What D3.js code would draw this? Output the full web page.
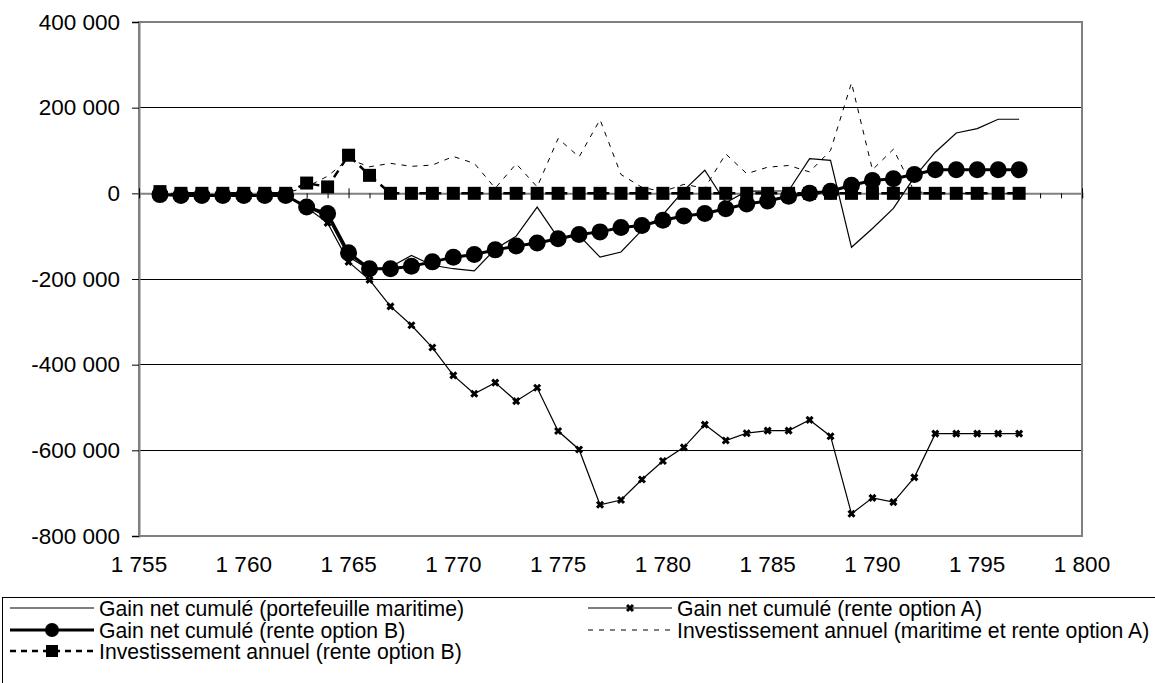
<!DOCTYPE html>
<html>
<head>
<meta charset="utf-8">
<script src="https://cdn.jsdelivr.net/npm/d3@7"></script>
<style>
  html, body { margin: 0; padding: 0; background: #fff; }
  svg { display: block; font-family: "Liberation Sans", Arial, sans-serif; }
</style>
</head>
<body>
<svg id="chart" width="1155" height="683"></svg>
<script>
// Years of the series
const years = [1756, 1757, 1758, 1759, 1760, 1761, 1762, 1763, 1764, 1765,
  1766, 1767, 1768, 1769, 1770, 1771, 1772, 1773, 1774, 1775,
  1776, 1777, 1778, 1779, 1780, 1781, 1782, 1783, 1784, 1785,
  1786, 1787, 1788, 1789, 1790, 1791, 1792, 1793, 1794, 1795,
  1796, 1797];

// Gain net cumulé (portefeuille maritime)
const gainMaritime = [-4000, -5000, -5000, -5000, -5000, -5000, -5000, -32000, -55000, -148000,
  -178000, -172000, -145000, -168000, -176000, -181000, -130000, -100000, -32000, -104000,
  -98000, -149000, -137000, -86000, -50000, 7000, 54000, -22000, 5000, 5000,
  6000, 81000, 77000, -126000, -82000, -35000, 38000, 96000, 141000, 151000,
  173000, 173000];

// Gain net cumulé (rente option A)
const gainOptionA = [-3000, -5000, -5000, -5000, -5000, -5000, -5000, -33000, -69000, -160000,
  -202000, -264000, -308000, -360000, -425000, -468000, -442000, -485000, -454000, -555000,
  -598000, -727000, -716000, -668000, -625000, -593000, -540000, -577000, -560000, -554000,
  -554000, -529000, -567000, -748000, -711000, -721000, -663000, -561000, -561000, -561000,
  -561000, -561000];

// Gain net cumulé (rente option B)
const gainOptionB = [-3000, -5000, -5000, -5000, -5000, -5000, -5000, -32000, -47000, -139000,
  -176000, -176000, -170000, -160000, -149000, -143000, -132000, -123000, -116000, -106000,
  -96000, -90000, -80000, -75000, -63000, -53000, -47000, -36000, -25000, -18000,
  -7000, 0, 5000, 19000, 30000, 34000, 44000, 55000, 55000, 55000,
  55000, 55000];

// Investissement annuel (maritime et rente option A)
const investOptionA = [0, 0, 0, 0, 0, 0, 0, 15000, 40000, 80000,
  62000, 70000, 63000, 66000, 86000, 70000, 12000, 69000, 15000, 128000,
  85000, 172000, 44000, 14000, 4000, 21000, 12000, 92000, 46000, 61000,
  65000, 50000, 100000, 258000, 55000, 103000, 4000, 0, 0, 0,
  0, 0];

// Investissement annuel (rente option B)
const investOptionB = [4000, 0, 0, 0, 0, 0, 0, 24000, 15000, 89000,
  42000, 0, 0, 0, 0, 0, 0, 0, 0, 0,
  0, 0, 0, 0, 0, 0, 0, 0, 0, 0,
  0, 0, 0, 0, 0, 0, 0, 0, 0, 0,
  0, 0];

// Axis ticks
const yTicks = [400000, 200000, 0, -200000, -400000, -600000, -800000];
const xTicks = [1755, 1760, 1765, 1770, 1775, 1780, 1785, 1790, 1795, 1800];

const legendLabels = [
  "Gain net cumulé (portefeuille maritime)",
  "Gain net cumulé (rente option A)",
  "Gain net cumulé (rente option B)",
  "Investissement annuel (maritime et rente option A)",
  "Investissement annuel (rente option B)"
];

const fr = d3.formatLocale({ decimal: ",", thousands: "\u00a0", grouping: [3], currency: ["", " €"], minus: "-" });
const fmt = fr.format(",d");

const svg = d3.select("#chart");
const plot = { left: 139, right: 1082, top: 22, bottom: 536 };

const x = d3.scaleLinear().domain([1755, 1800]).range([plot.left, plot.right]);
const y = d3.scaleLinear().domain([-800000, 400000]).range([plot.bottom, plot.top]);

svg.append("rect").attr("width", 1155).attr("height", 683).attr("fill", "#fff");

// Horizontal gridlines
svg.append("g")
  .selectAll("line")
  .data(yTicks.filter(v => v !== 0 && v !== -800000))
  .join("line")
  .attr("x1", plot.left).attr("x2", plot.right)
  .attr("y1", d => y(d)).attr("y2", d => y(d))
  .attr("stroke", "#000").attr("stroke-width", 1)
  .attr("shape-rendering", "crispEdges");

// Plot frame
svg.append("rect")
  .attr("x", plot.left).attr("y", plot.top)
  .attr("width", plot.right - plot.left).attr("height", plot.bottom - plot.top)
  .attr("fill", "none").attr("stroke", "#808080").attr("stroke-width", 2);

// Y axis
const yAxis = svg.append("g")
  .attr("transform", `translate(${plot.left},0)`)
  .call(d3.axisLeft(y).tickValues(yTicks).tickSize(7).tickPadding(12).tickFormat(fmt));
yAxis.select(".domain").attr("stroke", "#808080").attr("stroke-width", 2);
yAxis.selectAll(".tick line").attr("stroke", "#000");
yAxis.selectAll("text").attr("font-size", 22.5).attr("fill", "#000")
  .attr("font-family", "Liberation Sans, Arial, sans-serif");

// X axis along the zero line: yearly minor ticks, crossing major ticks
const zeroY = y(0);
const xAxis = svg.append("g").attr("transform", `translate(0,${zeroY})`);
xAxis.call(d3.axisBottom(x).ticks(45).tickSize(5).tickFormat(""));
xAxis.select(".domain").attr("stroke", "#808080").attr("stroke-width", 2);
xAxis.selectAll(".tick line").attr("stroke", "#000");
svg.append("g").attr("transform", `translate(0,${zeroY})`)
  .call(d3.axisTop(x).tickValues(xTicks).tickSize(5).tickFormat(""))
  .call(g => g.select(".domain").remove())
  .selectAll(".tick line").attr("stroke", "#000");

// X tick labels below the plot
svg.append("g")
  .selectAll("text")
  .data(xTicks)
  .join("text")
  .attr("x", d => x(d)).attr("y", 572)
  .attr("text-anchor", "middle")
  .attr("font-size", 22.5)
  .text(d => fmt(d));

const line = vals => d3.line().x((d, i) => x(years[i])).y(d => y(d))(vals);

// Series
svg.append("path").attr("d", line(gainMaritime))
  .attr("fill", "none").attr("stroke", "#000").attr("stroke-width", 1.2);

svg.append("path").attr("d", line(gainOptionA))
  .attr("fill", "none").attr("stroke", "#000").attr("stroke-width", 1.2);

const xMark = (g, cx, cy, s) => {
  g.append("path")
    .attr("d", `M${cx - s},${cy - s}L${cx + s},${cy + s}M${cx - s},${cy + s}L${cx + s},${cy - s}`)
    .attr("stroke", "#000").attr("stroke-width", 3);
};
const aMarks = svg.append("g");
gainOptionA.forEach((v, i) => xMark(aMarks, x(years[i]), y(v), 3));

svg.append("path").attr("d", line(gainOptionB))
  .attr("fill", "none").attr("stroke", "#000").attr("stroke-width", 3);
svg.append("g").selectAll("circle")
  .data(gainOptionB).join("circle")
  .attr("cx", (d, i) => x(years[i])).attr("cy", d => y(d))
  .attr("r", 8.5).attr("fill", "#000");

svg.append("path").attr("d", line(investOptionA))
  .attr("fill", "none").attr("stroke", "#000").attr("stroke-width", 1)
  .attr("stroke-dasharray", "5,6");

svg.append("path").attr("d", line(investOptionB))
  .attr("fill", "none").attr("stroke", "#000").attr("stroke-width", 2.5)
  .attr("stroke-dasharray", "8,6");
svg.append("g").selectAll("rect")
  .data(investOptionB).join("rect")
  .attr("x", (d, i) => x(years[i]) - 6.5).attr("y", d => y(d) - 6.5)
  .attr("width", 13).attr("height", 13).attr("fill", "#000");

// Legend
const legend = svg.append("g");
legend.append("rect")
  .attr("x", 2.5).attr("y", 597.5).attr("width", 1170).attr("height", 100)
  .attr("fill", "#fff").attr("stroke", "#000").attr("stroke-width", 1);

const cols = [10, 588];
const rows = [608, 630, 651];
const items = legendLabels.map((label, i) => ({
  label, col: cols[i % 2], row: rows[Math.floor(i / 2)], idx: i
}));

items.forEach(it => {
  const g = legend.append("g");
  const x0 = it.col, x1 = it.col + 84, cy = it.row, mid = (x0 + x1) / 2;
  const ln = g.append("line").attr("x1", x0).attr("x2", x1).attr("y1", cy).attr("y2", cy)
    .attr("stroke", "#000");
  if (it.idx === 0) ln.attr("stroke-width", 1.2);
  if (it.idx === 1) { ln.attr("stroke-width", 1.2); xMark(g, mid, cy, 3); }
  if (it.idx === 2) {
    ln.attr("stroke-width", 3);
    g.append("circle").attr("cx", mid).attr("cy", cy).attr("r", 7).attr("fill", "#000");
  }
  if (it.idx === 3) ln.attr("stroke-width", 1).attr("stroke-dasharray", "5,6");
  if (it.idx === 4) {
    ln.attr("stroke-width", 2.5).attr("stroke-dasharray", "6,5");
    g.append("rect").attr("x", mid - 6).attr("y", cy - 6).attr("width", 12).attr("height", 12).attr("fill", "#000");
  }
  g.append("text").attr("x", x1 + 5).attr("y", cy + 8)
    .attr("font-size", 21.2).text(it.label);
});
</script>
</body>
</html>
